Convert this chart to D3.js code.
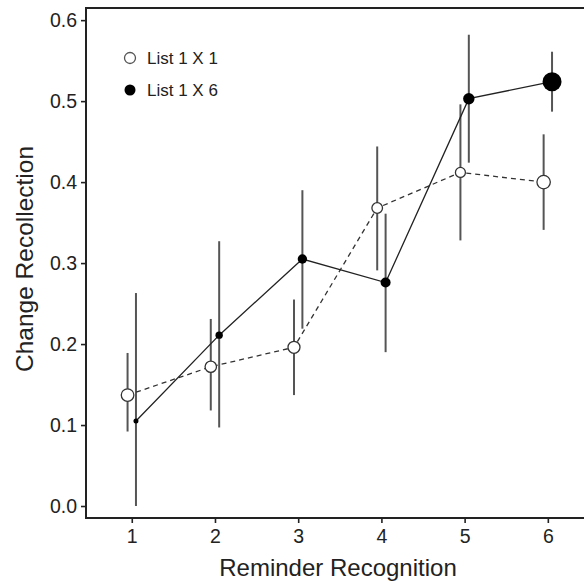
<!DOCTYPE html>
<html>
<head>
<meta charset="utf-8">
<script src="https://cdn.jsdelivr.net/npm/d3@7"></script>
<style>
body{margin:0;background:#fff;}
svg{display:block;}
text{font-family:"Liberation Sans",Arial,sans-serif;fill:#222;}
</style>
</head>
<body>
<svg width="584" height="581"></svg>
<script>
var reminder=[1,2,3,4,5,6];
var list1x1=[0.137,0.172,0.196,0.368,0.412,0.400];
var list1x1Lo=[0.092,0.118,0.137,0.291,0.328,0.341];
var list1x1Hi=[0.189,0.231,0.255,0.444,0.496,0.459];
var list1x1Size=[6.3,5.7,6,5.3,5,6.7];
var list1x6=[0.105,0.211,0.305,0.276,0.503,0.524];
var list1x6Lo=[0.0,0.097,0.219,0.190,0.424,0.487];
var list1x6Hi=[0.263,0.327,0.390,0.361,0.582,0.561];
var list1x6Size=[2.5,3.7,4.7,5,5.7,9.5];
var yTicks=[0.0,0.1,0.2,0.3,0.4,0.5,0.6];
var seriesNames=["List 1 X 1","List 1 X 6"];

var svg=d3.select('svg');
var x=d3.scaleLinear().domain([0.45,6.55]).range([86,593.6]);
var y=d3.scaleLinear().domain([-0.0148,0.615]).range([518,8]);
var dodge=4.2;

function makeSeries(vals,lo,hi,size,off){
    return reminder.map(function(r,i){
        return {x:r,off:off,v:vals[i],lo:lo[i],hi:hi[i],r:size[i]};
    });
}
var s1=makeSeries(list1x1,list1x1Lo,list1x1Hi,list1x1Size,-dodge);
var s2=makeSeries(list1x6,list1x6Lo,list1x6Hi,list1x6Size,dodge);

// axes
var yAxis=svg.append('g').attr('transform','translate(86,0)')
    .call(d3.axisLeft(y).tickValues(yTicks).tickFormat(d3.format('.1f')).tickSizeOuter(0).tickSize(5));
var xAxis=svg.append('g').attr('transform','translate(0,518)')
    .call(d3.axisBottom(x).tickValues(reminder).tickFormat(d3.format('d')).tickSizeOuter(0).tickSize(5));
[yAxis,xAxis].forEach(function(a){
    a.select('.domain').remove();
    a.selectAll('line').attr('stroke','#222').attr('stroke-width',1.6);
    a.selectAll('text').style('font-size','19.5px').attr('fill','#222');
});
yAxis.selectAll('text').attr('dx','-1px');
xAxis.selectAll('text').attr('y',25).attr('dy',0);

// panel border (top, left, bottom; right side is cut off)
svg.append('path')
    .attr('d','M600,8H86V518H600')
    .attr('fill','none').attr('stroke','#222').attr('stroke-width',2);

// error bars
[s1,s2].forEach(function(s){
    svg.append('g').selectAll('line').data(s).enter().append('line')
        .attr('x1',function(d){return x(d.x)+d.off;})
        .attr('x2',function(d){return x(d.x)+d.off;})
        .attr('y1',function(d){return y(d.lo);})
        .attr('y2',function(d){return y(d.hi);})
        .attr('stroke','#555').attr('stroke-width',2);
});

var line=d3.line().x(function(d){return x(d.x)+d.off;}).y(function(d){return y(d.v);});
svg.append('path').datum(s1).attr('d',line)
    .attr('fill','none').attr('stroke','#333').attr('stroke-width',1.3).attr('stroke-dasharray','5,4');
svg.append('path').datum(s2).attr('d',line)
    .attr('fill','none').attr('stroke','#222').attr('stroke-width',1.3);

svg.append('g').selectAll('circle').data(s1).enter().append('circle')
    .attr('cx',function(d){return x(d.x)+d.off;})
    .attr('cy',function(d){return y(d.v);})
    .attr('r',function(d){return d.r;})
    .attr('fill','#fff').attr('stroke','#333').attr('stroke-width',1.3);
svg.append('g').selectAll('circle').data(s2).enter().append('circle')
    .attr('cx',function(d){return x(d.x)+d.off;})
    .attr('cy',function(d){return y(d.v);})
    .attr('r',function(d){return d.r;})
    .attr('fill','#000');

// legend
var legend=svg.append('g');
seriesNames.forEach(function(n,i){
    var g=legend.append('g').attr('transform','translate(130,'+(58+i*32)+')');
    g.append('circle').attr('r',5.5)
        .attr('fill',i==0?'#fff':'#000')
        .attr('stroke',i==0?'#555':'none').attr('stroke-width',1.3);
    g.append('text').attr('x',17).attr('y',6).style('font-size','17px').text(n);
});

// axis titles
svg.append('text').attr('x',338).attr('y',576).attr('text-anchor','middle')
    .style('font-size','24px').text('Reminder Recognition');
svg.append('text').attr('transform','translate(33,259) rotate(-90)').attr('text-anchor','middle')
    .style('font-size','24.5px').text('Change Recollection');
</script>
</body>
</html>
